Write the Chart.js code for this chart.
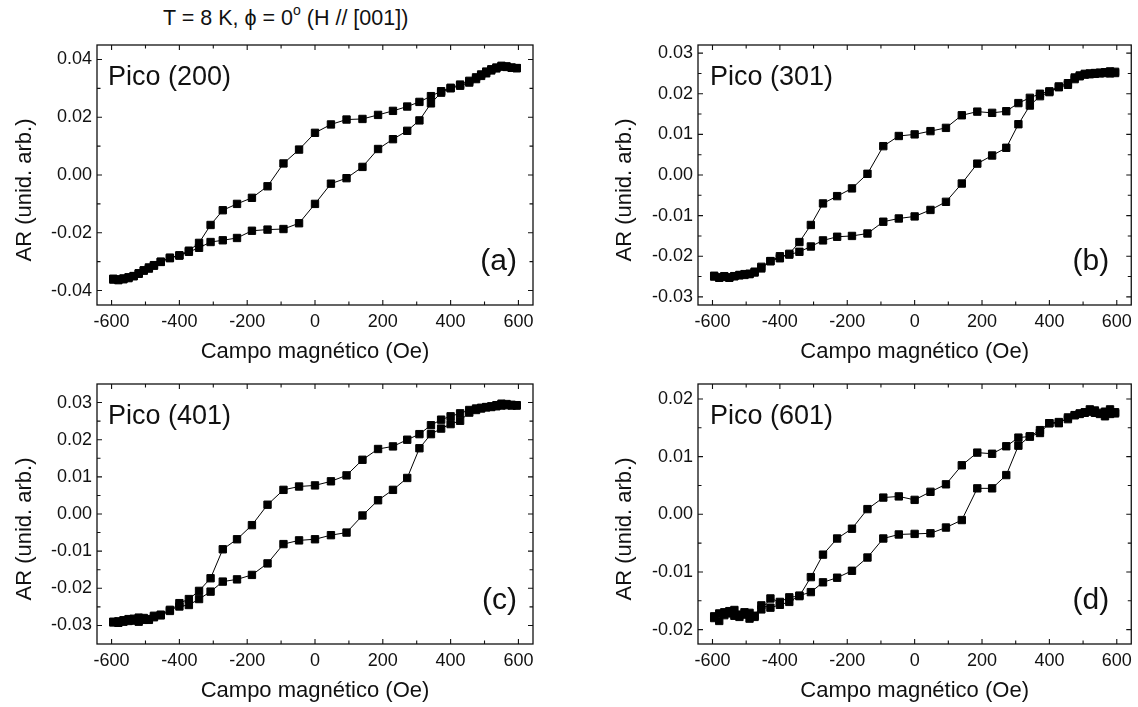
<!DOCTYPE html>
<html><head><meta charset="utf-8">
<script src="https://cdn.jsdelivr.net/npm/chart.js@4.4.0/dist/chart.umd.min.js"></script>
<style>
html,body{margin:0;padding:0;background:#fff;}
body{width:1138px;height:707px;position:relative;overflow:hidden;font-family:"Liberation Sans",Arial,sans-serif;}
.pane{position:absolute;}
#title{position:absolute;left:163px;top:4px;font-size:21.5px;color:#111;white-space:nowrap;line-height:28px;}
#title sup{font-size:14px;position:relative;top:-1px;vertical-align:top;line-height:14px;}
</style></head><body>
<div id="title">T = 8 K, <span>ϕ</span> = 0<sup>o</sup> (H // [001])</div>
<div class="pane" style="left:0;top:0;"><canvas id="ca" width="569" height="370"></canvas></div>
<div class="pane" style="left:569px;top:0;"><canvas id="cb" width="569" height="370"></canvas></div>
<div class="pane" style="left:0;top:340px;"><canvas id="cc" width="569" height="367"></canvas></div>
<div class="pane" style="left:569px;top:340px;"><canvas id="cd" width="569" height="367"></canvas></div>
<script>
// ---- data ----
const H_UP = [-595,-580,-565,-550,-535,-520,-505,-490,-475,-455,-428,-400,-372,-342,-308,-272,-230,-186,-140,-93,-47,0,47,93,140,186,230,272,308,342,372,400,428,455,475,490,505,520,535,550,565,580,595];
const H_DOWN = [595,580,565,550,535,520,505,490,475,455,428,400,372,342,308,272,230,186,140,93,47,0,-47,-93,-140,-186,-230,-272,-308,-342,-372,-400,-428,-455,-475,-490,-505,-520,-535,-550,-565,-580,-595];

const A_UP = [-0.0362,-0.0364,-0.0361,-0.0357,-0.0350,-0.0340,-0.0330,-0.0320,-0.0312,-0.0301,-0.0288,-0.0279,-0.0266,-0.0252,-0.0232,-0.0226,-0.0218,-0.0193,-0.0189,-0.0187,-0.0167,-0.0100,-0.0030,-0.0011,0.0028,0.0090,0.0124,0.0153,0.0189,0.0248,0.0285,0.0300,0.0309,0.0320,0.0332,0.0343,0.0352,0.0362,0.0369,0.0375,0.0374,0.0371,0.0370];
const A_DOWN = [0.0370,0.0372,0.0376,0.0378,0.0372,0.0366,0.0358,0.0348,0.0338,0.0326,0.0313,0.0302,0.0290,0.0273,0.0253,0.0237,0.0222,0.0208,0.0194,0.0192,0.0175,0.0146,0.0088,0.0040,-0.0039,-0.0079,-0.0100,-0.0122,-0.0173,-0.0235,-0.0262,-0.0278,-0.0286,-0.0300,-0.0314,-0.0324,-0.0331,-0.0342,-0.0350,-0.0354,-0.0358,-0.0361,-0.0359];

const B_UP = [-0.0250,-0.0253,-0.0251,-0.0252,-0.0249,-0.0247,-0.0246,-0.0244,-0.0238,-0.0226,-0.0212,-0.0200,-0.0196,-0.0189,-0.0176,-0.0161,-0.0152,-0.0150,-0.0144,-0.0115,-0.0107,-0.0102,-0.0086,-0.0066,-0.0021,0.0028,0.0048,0.0067,0.0125,0.0171,0.0194,0.0204,0.0216,0.0222,0.0236,0.0243,0.0247,0.0248,0.0249,0.0250,0.0251,0.0250,0.0251];
const B_DOWN = [0.0254,0.0255,0.0253,0.0252,0.0251,0.0250,0.0249,0.0245,0.0240,0.0226,0.0218,0.0206,0.0200,0.0190,0.0177,0.0157,0.0153,0.0156,0.0147,0.0116,0.0108,0.0100,0.0096,0.0071,0.0003,-0.0033,-0.0052,-0.0070,-0.0123,-0.0165,-0.0194,-0.0205,-0.0212,-0.0230,-0.0240,-0.0243,-0.0244,-0.0246,-0.0249,-0.0253,-0.0249,-0.0252,-0.0248];

const C_UP = [-0.0292,-0.0293,-0.0290,-0.0288,-0.0287,-0.0290,-0.0285,-0.0283,-0.0278,-0.0271,-0.0258,-0.0249,-0.0245,-0.0229,-0.0209,-0.0182,-0.0176,-0.0164,-0.0133,-0.0081,-0.0071,-0.0068,-0.0057,-0.0050,-0.0004,0.0037,0.0065,0.0097,0.0177,0.0215,0.0230,0.0242,0.0251,0.0273,0.0280,0.0284,0.0287,0.0288,0.0290,0.0292,0.0293,0.0292,0.0293];
const C_DOWN = [0.0292,0.0294,0.0296,0.0297,0.0293,0.0290,0.0288,0.0286,0.0284,0.0280,0.0271,0.0263,0.0254,0.0239,0.0215,0.0200,0.0182,0.0175,0.0146,0.0104,0.0088,0.0077,0.0074,0.0065,0.0025,-0.0030,-0.0068,-0.0095,-0.0173,-0.0207,-0.0229,-0.0240,-0.0261,-0.0273,-0.0274,-0.0285,-0.0280,-0.0279,-0.0282,-0.0283,-0.0286,-0.0289,-0.0290];

const D_UP = [-0.0180,-0.0185,-0.0175,-0.0172,-0.0176,-0.0178,-0.0174,-0.0181,-0.0176,-0.0158,-0.0162,-0.0157,-0.0152,-0.0141,-0.0135,-0.0118,-0.0110,-0.0098,-0.0075,-0.0042,-0.0035,-0.0034,-0.0033,-0.0023,-0.0010,0.0045,0.0045,0.0068,0.0119,0.0135,0.0141,0.0158,0.0160,0.0165,0.0172,0.0174,0.0176,0.0178,0.0176,0.0174,0.0170,0.0174,0.0175];
const D_DOWN = [0.0177,0.0182,0.0178,0.0176,0.0180,0.0182,0.0177,0.0175,0.0172,0.0168,0.0158,0.0158,0.0146,0.0135,0.0133,0.0118,0.0105,0.0107,0.0085,0.0052,0.0039,0.0025,0.0031,0.0029,0.0009,-0.0025,-0.0042,-0.0070,-0.0109,-0.0142,-0.0144,-0.0152,-0.0146,-0.0165,-0.0178,-0.0171,-0.0170,-0.0174,-0.0166,-0.0168,-0.0170,-0.0172,-0.0177];

const X_TICKS = [-600,-400,-200,0,200,400,600];
const Y_TICKS_A = [-0.04,-0.02,0.00,0.02,0.04];
const Y_TICKS_B = [-0.03,-0.02,-0.01,0.00,0.01,0.02,0.03];
const Y_TICKS_C = [-0.03,-0.02,-0.01,0.00,0.01,0.02,0.03];
const Y_TICKS_D = [-0.02,-0.01,0.00,0.01,0.02];
const X_RANGE = [-643, 643];
const Y_RANGE_A = [-0.045, 0.045];
const Y_RANGE_B = [-0.032, 0.032];
const Y_RANGE_C = [-0.035, 0.035];
const Y_RANGE_D = [-0.0225, 0.0226];
const PEAKS = ['Pico (200)','Pico (301)','Pico (401)','Pico (601)'];
const LETTERS = ['(a)','(b)','(c)','(d)'];
const X_TITLE = 'Campo magnético (Oe)';
const Y_TITLE = 'AR (unid. arb.)';

// ---- drawing ----
const FONT = '"Liberation Sans", Arial, sans-serif';
const INK = '#111';

function pts(h, r){ return h.map((v,i)=>({x:v, y:r[i]})); }
function mids(arr){ const m=[]; for(let i=0;i<arr.length-1;i++) m.push((arr[i]+arr[i+1])/2); return m; }

const framePlugin = {
  id:'frame',
  afterDatasetsDraw(chart, args, o){
    const {ctx, chartArea:a, scales:{x,y}} = chart;
    ctx.save();
    ctx.strokeStyle = INK; ctx.lineWidth = 1.3;
    ctx.strokeRect(a.left, a.top, a.right-a.left, a.bottom-a.top);
    const MJ=5, MN=3.5;
    ctx.lineWidth = 1.1;
    ctx.beginPath();
    const xt = o.xTicks, yt = o.yTicks;
    const xm = mids(xt), ym = mids(yt);
    const vx = (v,len)=>{ const p = x.getPixelForValue(v); if(p<a.left||p>a.right) return;
      ctx.moveTo(p,a.bottom); ctx.lineTo(p,a.bottom-len); ctx.moveTo(p,a.top); ctx.lineTo(p,a.top+len); };
    const vy = (v,len)=>{ const p = y.getPixelForValue(v); if(p<a.top||p>a.bottom) return;
      ctx.moveTo(a.left,p); ctx.lineTo(a.left+len,p); ctx.moveTo(a.right,p); ctx.lineTo(a.right-len,p); };
    xt.forEach(v=>vx(v,MJ)); xm.forEach(v=>vx(v,MN));
    yt.forEach(v=>vy(v,MJ)); ym.forEach(v=>vy(v,MN));
    ctx.stroke();
    // annotations
    ctx.fillStyle = INK;
    ctx.font = '27px ' + FONT;
    ctx.textAlign='left'; ctx.textBaseline='middle';
    ctx.fillText(o.peak, a.left + o.peakDx, a.top + 33);
    ctx.font = '30px ' + FONT;
    ctx.textAlign='right';
    ctx.fillText(o.letter, a.right - o.letterDx, a.bottom - 43);
    // y title
    ctx.font = '22px ' + FONT;
    ctx.translate(o.yTitleX, (a.top+a.bottom)/2 + 15);
    ctx.rotate(-Math.PI/2);
    ctx.textAlign='center';
    ctx.fillText(Y_TITLE, 0, 0);
    ctx.restore();
  }
};

function makePanel(id, hDown, rDown, hUp, rUp, yRange, yTicks, peak, letter, g){
  const ds = (data)=>({data, borderColor:'#000', borderWidth:1, backgroundColor:'#000',
    pointStyle:'rect', pointRadius:5.2, pointBorderWidth:1, pointBorderColor:'#000', pointBackgroundColor:'#000', tension:0});
  new Chart(document.getElementById(id), {
    type:'line',
    data:{datasets:[ds(pts(hDown,rDown)), ds(pts(hUp,rUp))]},
    options:{
      responsive:false, animation:false, devicePixelRatio:1,
      layout:{padding:{top:g.padTop, right:g.padRight, left:0, bottom:0}},
      plugins:{legend:{display:false}, tooltip:{enabled:false},
        frame:{xTicks:X_TICKS, yTicks, peak, letter, peakDx:g.peakDx, letterDx:g.letterDx, yTitleX:g.yTitleX}},
      scales:{
        x:{type:'linear', min:X_RANGE[0], max:X_RANGE[1],
          afterBuildTicks:s=>{ s.ticks = X_TICKS.map(v=>({value:v})); },
          afterFit:s=>{ s.height = g.xAxisH; },
          grid:{display:false, drawTicks:false}, border:{display:false},
          ticks:{padding:6, color:INK, font:{family:FONT, size:18}, maxRotation:0, autoSkip:false, callback:v=>String(v)},
          title:{display:true, text:X_TITLE, color:INK, font:{family:FONT, size:22}, padding:{top:0, bottom:g.xTitlePad}}
        },
        y:{type:'linear', min:yRange[0], max:yRange[1],
          afterBuildTicks:s=>{ s.ticks = yTicks.map(v=>({value:v})); },
          afterFit:s=>{ s.width = g.yAxisW; },
          grid:{display:false, drawTicks:false}, border:{display:false},
          ticks:{padding:5, color:INK, font:{family:FONT, size:18}, autoSkip:false,
            callback:v=>{ const t=(Math.abs(v)<1e-9?0:v).toFixed(2); return t; }}
        }
      }
    },
    plugins:[framePlugin]
  });
}

const TOP = {padTop:45, xAxisH:65, xTitlePad:4.8};
const BOT = {padTop:44, xAxisH:63, xTitlePad:2.8};
const LEFT = {yAxisW:97, padRight:36, yTitleX:24.5, peakDx:11, letterDx:16};
const RIGHT = {yAxisW:129, padRight:3, yTitleX:56, peakDx:12, letterDx:22};

makePanel('ca', H_DOWN, A_DOWN, H_UP, A_UP, Y_RANGE_A, Y_TICKS_A, PEAKS[0], LETTERS[0], Object.assign({}, TOP, LEFT));
makePanel('cb', H_DOWN, B_DOWN, H_UP, B_UP, Y_RANGE_B, Y_TICKS_B, PEAKS[1], LETTERS[1], Object.assign({}, TOP, RIGHT));
makePanel('cc', H_DOWN, C_DOWN, H_UP, C_UP, Y_RANGE_C, Y_TICKS_C, PEAKS[2], LETTERS[2], Object.assign({}, BOT, LEFT));
makePanel('cd', H_DOWN, D_DOWN, H_UP, D_UP, Y_RANGE_D, Y_TICKS_D, PEAKS[3], LETTERS[3], Object.assign({}, BOT, RIGHT));
</script>
</body></html>
